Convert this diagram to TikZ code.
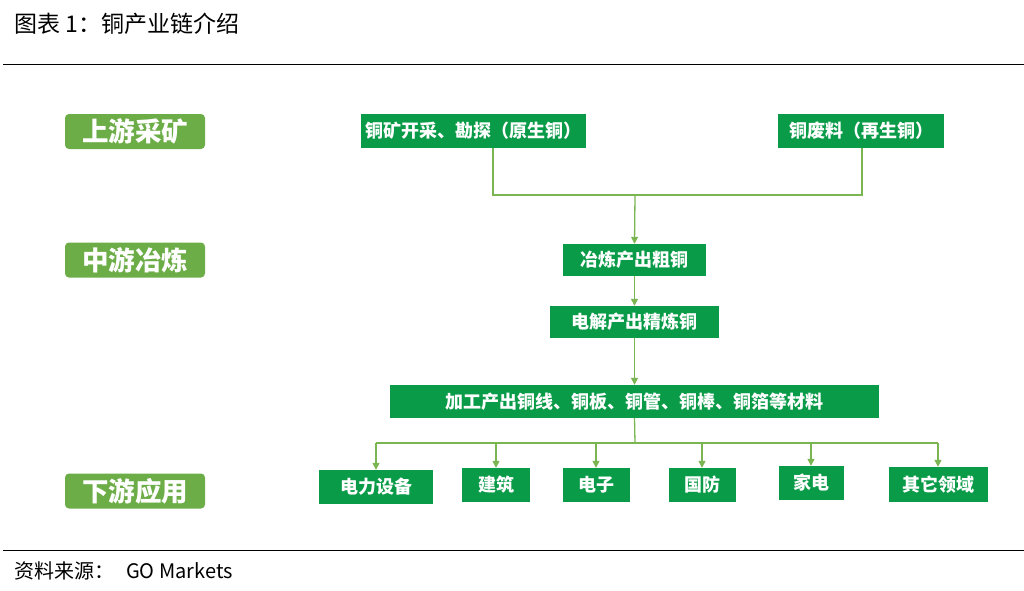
\documentclass[tikz,border=0pt]{standalone}
\usepackage{fontspec}
\setmainfont{Noto Sans CJK SC}
\usetikzlibrary{arrows.meta}
\definecolor{dkgreen}{HTML}{0A9B48}
\definecolor{ltgreen}{HTML}{6CAD47}
\definecolor{lngreen}{HTML}{7AB552}
\tikzset{
  stagebox/.style={fill=ltgreen, rounded corners=4pt, text=white, font=\fontsize{26.5}{30}\selectfont\bfseries, minimum width=140pt, minimum height=35pt, inner sep=0pt},
  gbox/.style={fill=dkgreen, text=white, font=\fontsize{18}{21}\selectfont\bfseries, minimum height=34pt, inner sep=0pt},
  conn/.style={draw=lngreen, line width=1.3pt},
  arr/.style={conn, -{Triangle[length=7pt,width=7pt]}}
}
\begin{document}
\begin{tikzpicture}[x=1pt,y=-1pt]
\useasboundingbox (0,0) rectangle (1024,590);
% header and footer
\node[anchor=west, font=\fontsize{23}{26}\selectfont, inner sep=0pt] (title) at (14,24) {图表 1：铜产业链介绍};
\coordinate (hl) at (3,64); \coordinate (hr) at (1024,64);
\draw[line width=1pt] (hl) -- (hr);
\coordinate (fl) at (3,550); \coordinate (fr) at (1024,550);
\draw[line width=1pt] (fl) -- (fr);
\node[anchor=west, font=\fontsize{20}{23}\selectfont, inner sep=0pt] (src) at (14,571) {资料来源：\hspace{12pt}GO Markets};
% stage labels
\node[stagebox] (s1) at (135,131.5) {上游采矿};
\node[stagebox] (s2) at (135,260) {中游冶炼};
\node[stagebox] (s3) at (135,491) {下游应用};
% top boxes
\node[gbox, minimum width=225pt] (mine) at (473.5,131) {铜矿开采、勘探（原生铜）};
\node[gbox, minimum width=166pt] (scrap) at (861,131) {铜废料（再生铜）};
% middle boxes
\node[gbox, minimum width=143pt, minimum height=32pt] (smelt) at (634.5,260) {冶炼产出粗铜};
\node[gbox, minimum width=169pt, minimum height=32pt] (refine) at (634.5,322) {电解产出精炼铜};
\node[gbox, minimum width=489pt, minimum height=33pt] (proc) at (634.5,401.5) {加工产出铜线、铜板、铜管、铜棒、铜箔等材料};
% bottom boxes
\node[gbox, minimum width=114pt, minimum height=34pt] (b1) at (376,487) {电力设备};
\node[gbox, minimum width=68pt, minimum height=34pt] (b2) at (496,485) {建筑};
\node[gbox, minimum width=67pt, minimum height=34pt] (b3) at (596,485) {电子};
\node[gbox, minimum width=67pt, minimum height=34pt] (b4) at (702,485) {国防};
\node[gbox, minimum width=65pt, minimum height=34pt] (b5) at (811,483) {家电};
\node[gbox, minimum width=99pt, minimum height=35pt] (b6) at (938,484.5) {其它领域};
% connectors top
\coordinate (j1) at (493,195);
\coordinate (j2) at (862,195);
\coordinate (jm) at (635,195);
\draw[conn] (mine.south -| j1) -- (j1) -- (j2) -- (scrap.south -| j2);
\draw[arr] (jm) -- (smelt.north);
\draw[arr] (smelt.south) -- (refine.north);
\draw[arr] (refine.south) -- (proc.north);
% connectors bottom
\coordinate (k) at (635,443);
\coordinate (kl) at (376,443);
\coordinate (kr) at (938,443);
\draw[conn] (proc.south) -- (k);
\draw[conn] (kl) -- (kr);
\foreach \b in {b1,b2,b3,b4,b5,b6}{
  \draw[arr] (kl -| \b.north) -- (\b.north);
}
\end{tikzpicture}
\end{document}
